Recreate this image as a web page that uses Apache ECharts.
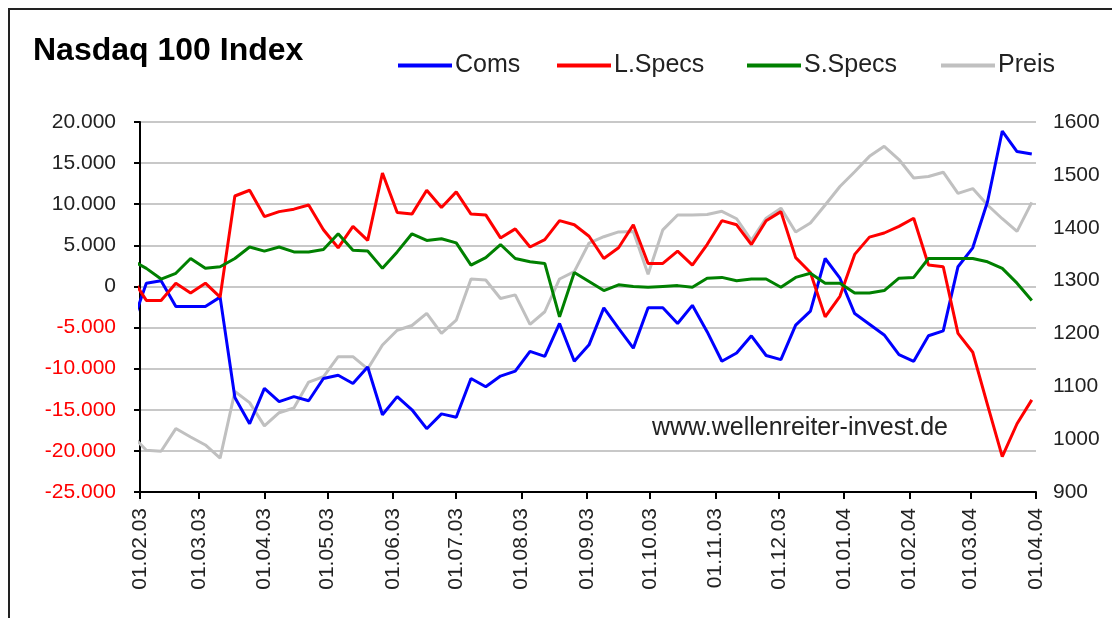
<!DOCTYPE html>
<html>
<head>
<meta charset="utf-8">
<script src="https://cdn.jsdelivr.net/npm/echarts@6/dist/echarts.min.js"></script>
<style>html,body{margin:0;padding:0;background:#fff;}#c{width:1112px;height:618px;}</style>
</head>
<body>
<div id="c"></div>
<script>
// Weekly report dates (Tuesdays)
const dates = [
 '2003-01-28','2003-02-04','2003-02-11','2003-02-18','2003-02-25','2003-03-04','2003-03-11','2003-03-18','2003-03-25',
 '2003-04-01','2003-04-08','2003-04-15','2003-04-22','2003-04-29','2003-05-06','2003-05-13','2003-05-20','2003-05-27',
 '2003-06-03','2003-06-10','2003-06-17','2003-06-24','2003-07-01','2003-07-08','2003-07-15','2003-07-22','2003-07-29',
 '2003-08-05','2003-08-12','2003-08-19','2003-08-26','2003-09-02','2003-09-09','2003-09-16','2003-09-23','2003-09-30',
 '2003-10-07','2003-10-14','2003-10-21','2003-10-28','2003-11-04','2003-11-11','2003-11-18','2003-11-25',
 '2003-12-02','2003-12-09','2003-12-16','2003-12-23','2003-12-30','2004-01-06','2004-01-13','2004-01-20','2004-01-27',
 '2004-02-03','2004-02-10','2004-02-17','2004-02-24','2004-03-02','2004-03-09','2004-03-16','2004-03-23','2004-03-30'
];
const coms = [
 -4800, 400, 700, -2450, -2450, -2450, -1300, -13500, -16700,
 -12400, -14000, -13400, -13900, -11200, -10800, -11800, -9800, -15600,
 -13400, -15000, -17300, -15500, -15900, -11200, -12200, -10900, -10300,
 -7900, -8500, -4500, -9100, -7100, -2600, -5100, -7500, -2600,
 -2600, -4500, -2300, -5500, -9100, -8100, -6000, -8400,
 -8900, -4700, -3000, 3400, 1000, -3300, -4600, -5900, -8300,
 -9100, -6000, -5400, 2400, 4700, 10300, 18900, 16400, 16100
];
const lSpecs = [
 1100, -1700, -1700, 400, -800, 400, -1300, 11000, 11700,
 8500, 9100, 9400, 9900, 6900, 4700, 7300, 5600, 13800,
 9000, 8800, 11700, 9600, 11500, 8800, 8700, 5900, 7000,
 4800, 5700, 8000, 7500, 6100, 3400, 4700, 7500, 2800,
 2800, 4300, 2600, 5100, 8000, 7500, 5100, 8000,
 9100, 3500, 1700, -3700, -1200, 3900, 6000, 6500, 7300,
 8300, 2600, 2400, -5700, -8000, -14400, -20700, -16700, -13800
];
const sSpecs = [
 3200, 2200, 900, 1600, 3400, 2200, 2400, 3400, 4800,
 4300, 4800, 4200, 4200, 4500, 6400, 4400, 4300, 2200,
 4200, 6400, 5600, 5800, 5300, 2600, 3500, 5100, 3400,
 3000, 2800, -3700, 1700, 600, -500, 200, 0, -100,
 0, 100, -100, 1000, 1100, 700, 900, 900,
 -100, 1100, 1600, 400, 400, -800, -800, -500, 1000,
 1100, 3400, 3400, 3400, 3400, 3000, 2200, 400, -1700
];
const preis = [
 1008, 979, 977, 1020, 1004, 989, 964, 1090, 1069,
 1025, 1050, 1059, 1108, 1118, 1156, 1156, 1133, 1178,
 1206, 1215, 1238, 1200, 1225, 1303, 1301, 1266, 1273,
 1217, 1241, 1303, 1317, 1371, 1383, 1392, 1393, 1312,
 1396, 1424, 1424, 1425, 1431, 1417, 1376, 1418,
 1437, 1392, 1409, 1443, 1478, 1506, 1535, 1554, 1529,
 1494, 1497, 1505, 1465, 1474, 1443, 1417, 1393, 1448
];
const tickLabels = ['01.02.03','01.03.03','01.04.03','01.05.03','01.06.03','01.07.03','01.08.03','01.09.03',
 '01.10.03','01.11.03','01.12.03','01.01.04','01.02.04','01.03.04','01.04.04'];
const seriesNames = ['Coms','L.Specs','S.Specs','Preis'];
const titleText = 'Nasdaq 100 Index';
const watermark = 'www.wellenreiter-invest.de';

const BASE = Date.UTC(2003,1,1);
function isoDay(s){const p=s.split('-').map(Number);return (Date.UTC(p[0],p[1]-1,p[2])-BASE)/864e5;}
function lblDay(s){const p=s.split('.').map(Number);return (Date.UTC(2000+p[2],p[1]-1,p[0])-BASE)/864e5;}
const tickDays = tickLabels.map(lblDay);
const labelByDay = {}; tickLabels.forEach((l,i)=>{labelByDay[tickDays[i]]=l;});
const xs = dates.map(isoDay);
const pair = arr => arr.map((v,i)=>[xs[i],v]);
function de(v){v=Number(v);const s=Math.abs(v).toString().replace(/\B(?=(\d{3})+(?!\d))/g,'.');return (v<0?'-':'')+s;}

const FONT = 'Liberation Sans, Arial, sans-serif';
const chart = echarts.init(document.getElementById('c'), null, {renderer:'canvas'});
const colors = ['#0000ff','#ff0000','#008000','#c0c0c0'];
const legendLeft = [398, 557, 747, 941];

chart.setOption({
  animation:false,
  backgroundColor:'#fff',
  title:{text:titleText,left:33,top:35,padding:0,textStyle:{fontFamily:FONT,fontSize:32,fontWeight:'bold',color:'#000'}},
  legend: seriesNames.map((n,i)=>({
    data:[n], left:legendLeft[i], top:53, padding:0, icon:'rect', itemWidth:54, itemHeight:4, itemGap:5,
    textStyle:{fontFamily:FONT,fontSize:25,color:'#222',padding:[0,0,0,-2]}
  })),
  grid:{left:140,right:76,top:122,bottom:126,containLabel:false},
  xAxis:{
    type:'value',min:0,max:425,
    axisLine:{onZero:false,lineStyle:{color:'#000',width:2}},
    axisTick:{customValues:tickDays,length:7,lineStyle:{color:'#000',width:2}},
    axisLabel:{customValues:tickDays,formatter:v=>labelByDay[v]||'',rotate:90,margin:16,
      fontFamily:FONT,fontSize:21,color:'#222'},
    splitLine:{show:false}
  },
  yAxis:[
    {type:'value',min:-25000,max:20000,interval:5000,
     axisLine:{show:true,lineStyle:{color:'#000',width:2}},
     axisTick:{show:true,length:6,lineStyle:{color:'#000',width:2}},
     axisLabel:{formatter:de,margin:24,fontFamily:FONT,fontSize:21,color:v=>Number(v)<0?'#ff0000':'#222'},
     splitLine:{show:true,lineStyle:{color:'#c8c8c8',width:2}}},
    {type:'value',min:900,max:1600,interval:100,position:'right',
     axisLine:{show:false},axisTick:{show:false},
     axisLabel:{formatter:v=>String(v),margin:17,fontFamily:FONT,fontSize:21,color:'#222'},
     splitLine:{show:false}}
  ],
  series:[
    {name:'Preis',type:'line',yAxisIndex:1,data:pair(preis),symbol:'none',clip:true,
     lineStyle:{width:3,color:colors[3]},itemStyle:{color:colors[3]},z:1},
    {name:'Coms',type:'line',data:pair(coms),symbol:'none',clip:true,
     lineStyle:{width:3,color:colors[0]},itemStyle:{color:colors[0]},z:2},
    {name:'L.Specs',type:'line',data:pair(lSpecs),symbol:'none',clip:true,
     lineStyle:{width:3,color:colors[1]},itemStyle:{color:colors[1]},z:2},
    {name:'S.Specs',type:'line',data:pair(sSpecs),symbol:'none',clip:true,
     lineStyle:{width:3,color:colors[2]},itemStyle:{color:colors[2]},z:2}
  ],
  graphic:[
    {type:'rect',shape:{x:9,y:9,width:1300,height:800},style:{fill:null,stroke:'#222',lineWidth:2},silent:true,z:100},
    {type:'text',x:652,y:428,style:{text:watermark,font:'25px '+FONT,fill:'#222',textVerticalAlign:'middle'},z:50}
  ]
});
</script>
</body>
</html>
